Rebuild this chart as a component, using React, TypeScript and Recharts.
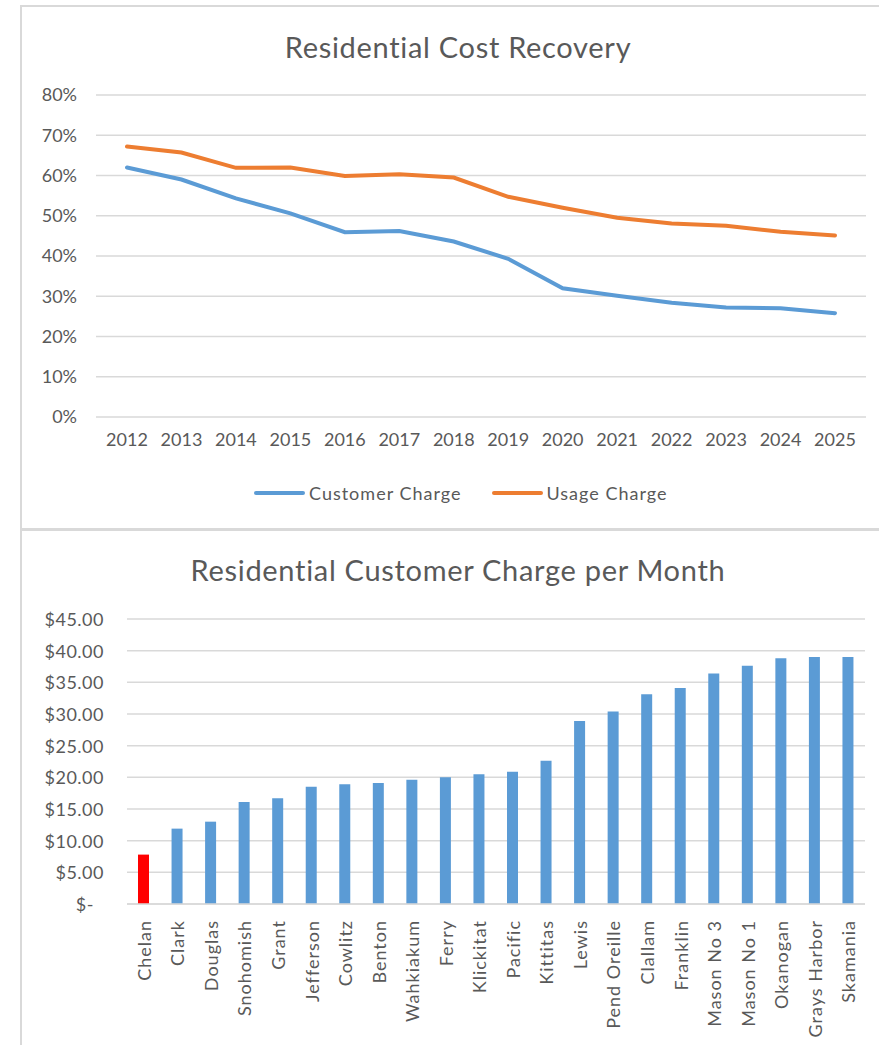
import React from 'react';
import { LineChart, Line, BarChart, Bar, Cell, XAxis, YAxis, CartesianGrid } from 'recharts';

// Residential Cost Recovery (percent)
const years = ['2012', '2013', '2014', '2015', '2016', '2017', '2018', '2019', '2020', '2021', '2022', '2023', '2024', '2025'];
const customerCharge = [62.0, 59.0, 54.3, 50.6, 45.9, 46.2, 43.6, 39.3, 32.0, 30.1, 28.4, 27.2, 27.0, 25.8];
const usageCharge = [67.2, 65.7, 61.9, 62.0, 59.9, 60.3, 59.5, 54.7, 52.0, 49.5, 48.1, 47.5, 46.0, 45.1];
const percentTicks = [0, 10, 20, 30, 40, 50, 60, 70, 80];

// Residential Customer Charge per Month (dollars)
const utilities = [
  'Chelan', 'Clark', 'Douglas', 'Snohomish', 'Grant', 'Jefferson', 'Cowlitz', 'Benton', 'Wahkiakum', 'Ferry',
  'Klickitat', 'Pacific', 'Kittitas', 'Lewis', 'Pend Oreille', 'Clallam', 'Franklin', 'Mason No 3', 'Mason No 1',
  'Okanogan', 'Grays Harbor', 'Skamania',
];
const monthlyCharge = [
  7.8, 11.9, 13.0, 16.1, 16.7, 18.5, 18.9, 19.1, 19.6, 20.0,
  20.5, 20.9, 22.6, 28.9, 30.4, 33.1, 34.1, 36.4, 37.6,
  38.8, 39.0, 39.0,
];
const dollarTicks = [0, 5, 10, 15, 20, 25, 30, 35, 40, 45];
const highlightUtility = 'Chelan';

const BLUE = '#5B9BD5';
const ORANGE = '#ED7D31';
const RED = '#FF0000';
const GRID = '#D9D9D9';
const TEXT = '#595959';
const FONT = 'Lato, "Liberation Sans", sans-serif';

const lineData = years.map((year, i) => ({
  year,
  customer: customerCharge[i],
  usage: usageCharge[i],
}));

const barData = utilities.map((name, i) => ({ name, charge: monthlyCharge[i] }));

const RotatedTick = ({ x, y, payload }: any) => (
  <text
    transform={`translate(${x},${y + 8}) rotate(-90)`}
    textAnchor="end"
    dominantBaseline="central"
    fill={TEXT}
    fontSize={18}
    fontFamily={FONT}
    letterSpacing={1}
  >
    {payload.value}
  </text>
);

const DollarTick = ({ x, y, payload }: any) => {
  const v = payload.value as number;
  return (
    <text
      x={v === 0 ? x - 10 : x}
      y={y}
      textAnchor="end"
      dominantBaseline="central"
      fill={TEXT}
      fontSize={18}
      fontFamily={FONT}
      letterSpacing={0.5}
    >
      {v === 0 ? '$-' : `$${v.toFixed(2)}`}
    </text>
  );
};

const LegendItem = ({ color, label }: { color: string; label: string }) => (
  <div style={{ display: 'flex', alignItems: 'center' }}>
    <div style={{ width: 51, height: 4, borderRadius: 2, background: color, marginRight: 4 }} />
    <span>{label}</span>
  </div>
);

const App: React.FC = () => {
  const abs = (top: number, left: number, width: number, height: number): React.CSSProperties => ({
    position: 'absolute',
    top,
    left,
    width,
    height,
    background: GRID,
  });

  return (
    <div
      style={{
        position: 'absolute',
        left: 0,
        top: 0,
        width: 879,
        height: 1045,
        background: '#FFFFFF',
        overflow: 'hidden',
        fontFamily: FONT,
        color: TEXT,
      }}
    >
      {/* frame lines */}
      <div style={abs(5, 20, 859, 2)} />
      <div style={abs(5, 20, 2, 1040)} />
      <div style={abs(528, 20, 859, 3)} />

      {/* top chart */}
      <div style={{ position: 'absolute', top: 29, left: 0, width: 916, textAlign: 'center', fontSize: 29, letterSpacing: 0.7 }}>
        Residential Cost Recovery
      </div>
      <div style={{ position: 'absolute', top: 0, left: 0 }}>
        <LineChart width={879} height={527} data={lineData} margin={{ top: 95, right: 13, left: 26, bottom: 80 }}>
          <CartesianGrid vertical={false} stroke={GRID} strokeWidth={1.5} />
          <XAxis
            dataKey="year"
            axisLine={false}
            tickLine={false}
            padding={{ left: 31, right: 31 }}
            tick={{ fill: TEXT, fontSize: 18, fontFamily: FONT }}
            tickMargin={10}
            height={30}
            interval={0}
          />
          <YAxis
            width={70}
            domain={[0, 80]}
            ticks={percentTicks}
            tickFormatter={(v: number) => `${v}%`}
            axisLine={false}
            tickLine={false}
            tick={{ fill: TEXT, fontSize: 18, fontFamily: FONT }}
            tickMargin={13}
          />
          <Line type="linear" dataKey="customer" name="Customer Charge" stroke={BLUE} strokeWidth={4} dot={false} strokeLinecap="round" isAnimationActive={false} />
          <Line type="linear" dataKey="usage" name="Usage Charge" stroke={ORANGE} strokeWidth={4} dot={false} strokeLinecap="round" isAnimationActive={false} />
        </LineChart>
      </div>
      <div
        style={{
          position: 'absolute',
          top: 481,
          left: 254,
          display: 'flex',
          gap: 30,
          fontSize: 18,
          lineHeight: '24px',
          letterSpacing: 1,
        }}
      >
        <LegendItem color={BLUE} label="Customer Charge" />
        <LegendItem color={ORANGE} label="Usage Charge" />
      </div>

      {/* bottom chart */}
      <div style={{ position: 'absolute', top: 552, left: 0, width: 916, textAlign: 'center', fontSize: 29, letterSpacing: 0.7 }}>
        Residential Customer Charge per Month
      </div>
      <div style={{ position: 'absolute', top: 529, left: 0 }}>
        <BarChart width={879} height={516} data={barData} margin={{ top: 90, right: 14, left: 47, bottom: 11 }}>
          <CartesianGrid vertical={false} stroke={GRID} strokeWidth={1.5} />
          <XAxis
            dataKey="name"
            axisLine={{ stroke: GRID, strokeWidth: 1.5 }}
            tickLine={false}
            tick={<RotatedTick />}
            height={130}
            interval={0}
          />
          <YAxis
            width={80}
            domain={[0, 45]}
            ticks={dollarTicks}
            axisLine={false}
            tickLine={false}
            tick={<DollarTick />}
            tickMargin={17}
          />
          <Bar dataKey="charge" barSize={11} isAnimationActive={false}>
            {barData.map((d) => (
              <Cell key={d.name} fill={d.name === highlightUtility ? RED : BLUE} />
            ))}
          </Bar>
        </BarChart>
      </div>
    </div>
  );
};

export default App;
